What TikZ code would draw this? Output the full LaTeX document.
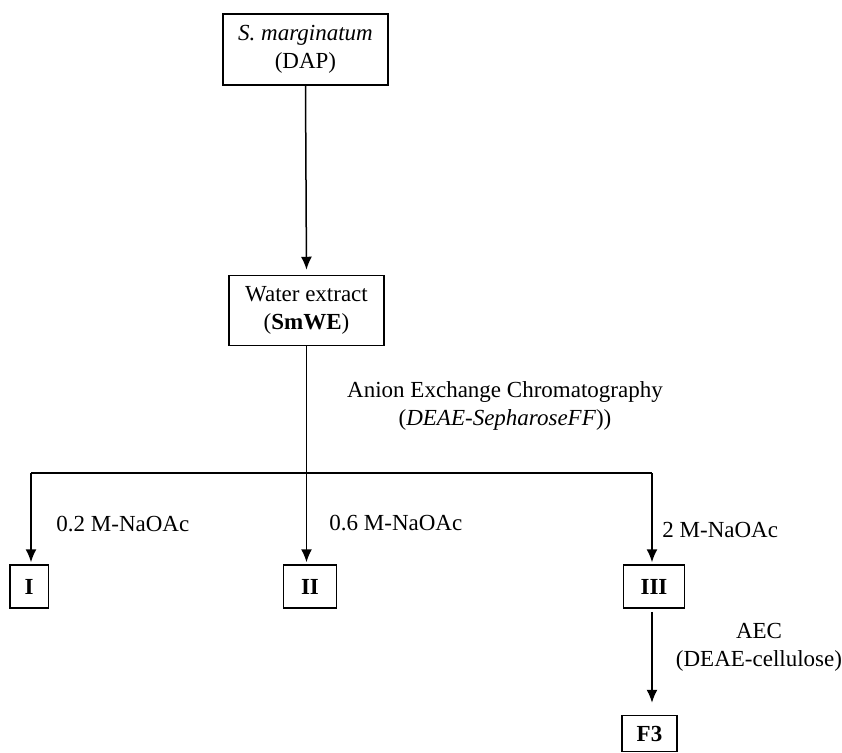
\documentclass[tikz,border=0pt]{standalone}
\usepackage{fontspec}
\setmainfont{Liberation Serif}
\usetikzlibrary{arrows.meta,positioning,calc}

\tikzset{
  box/.style={draw, line width=0.75pt, inner sep=0pt, align=center},
  flow/.style={line width=0.75pt, -{Latex[length=6.5pt,width=5.5pt]}},
  lbl/.style={inner sep=0pt, align=center}
}

\begin{document}
\fontsize{11.5}{14}\selectfont
\begin{tikzpicture}[x=0.5pt,y=-0.5pt]
    \useasboundingbox (0,0) rectangle (842,752);
    % boxes
    \node[box, minimum width=82.5pt, minimum height=35.5pt] (src) at (305.5,49.5) {\textit{S. marginatum}\\(DAP)};
    \node[box, minimum width=77.5pt, minimum height=35pt] (wex) at (306.5,310.5) {Water extract\\(\textbf{SmWE})};
    \node[box, minimum width=19.25pt, minimum height=21.5pt] (fI) at (29,586.5) {\textbf{I}};
    \node[box, minimum width=26.5pt, minimum height=21.5pt] (fII) at (310,586.5) {\textbf{II}};
    \node[box, minimum width=30.5pt, minimum height=21.5pt] (fIII) at (654,586.5) {\textbf{III}};
    \node[box, minimum width=27.5pt, minimum height=18pt] (fF) at (649.5,733.5) {\textbf{F3}};
    % split points
    \coordinate (jI) at (31,473);
    \coordinate (jII) at (306.5,473);
    \coordinate (jIII) at (652,473);
    % connectors
    \draw[flow, shorten >=2.5pt] (src.south) -- (wex.north);
    \draw[line width=0.75pt] (wex.south) -- (jII);
    \draw[line width=0.75pt] (jI) -- (jIII);
    \draw[flow, shorten >=1pt] (jI) -- (jI |- fI.north);
    \draw[flow, shorten >=1pt] (jII) -- (jII |- fII.north);
    \draw[flow, shorten >=1pt] (jIII) -- (jIII |- fIII.north);
    \draw[flow, shorten <=1.5pt, shorten >=6pt] (fIII.south -| jIII) -- (fF.north -| jIII);
    % labels
    \node[lbl] (aec) at (505,406) {Anion Exchange Chromatography\\(\textit{DEAE-SepharoseFF}))};
    \node[lbl, anchor=west] (na1) at (56,524) {0.2 M-NaOAc};
    \node[lbl, anchor=west] (na2) at (329,523) {0.6 M-NaOAc};
    \node[lbl, anchor=west] (na3) at (662,530) {2 M-NaOAc};
    \node[lbl] (cel) at (759,647) {AEC\\(DEAE-cellulose)};
\end{tikzpicture}
\end{document}
